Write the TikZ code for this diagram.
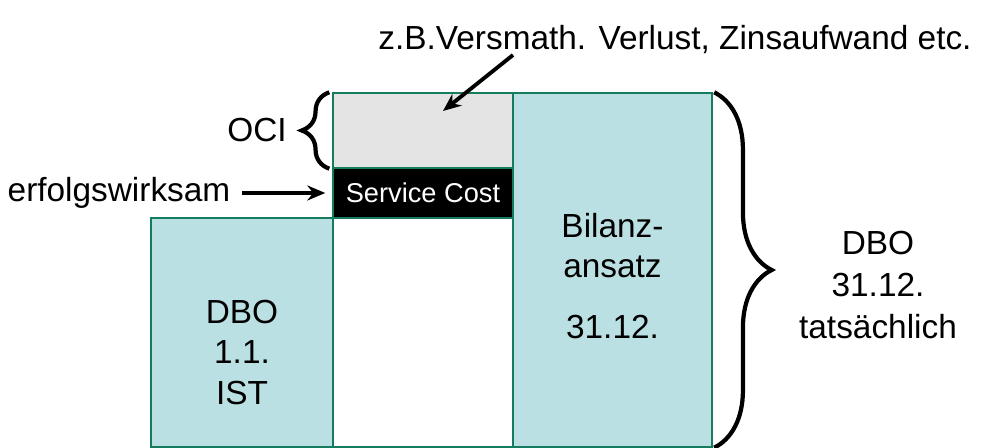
\documentclass[tikz,border=0pt]{standalone}
\usepackage{fontspec}
\setmainfont{Liberation Sans}
\usetikzlibrary{arrows.meta,positioning,decorations.pathreplacing}
\definecolor{boxfill}{RGB}{187,224,227}
\definecolor{boxline}{RGB}{20,125,95}
\definecolor{ocifill}{RGB}{228,228,228}
\begin{document}
\begin{tikzpicture}[
  x=0.02cm, y=-0.02cm,
  font=\fontsize{19}{23}\selectfont,
  bar/.style={draw=boxline, line width=0.8pt, fill=boxfill, inner sep=0pt, minimum width=#1*0.02cm},
  bar/.default=180,
  lbl/.style={align=center, inner sep=1pt},
  arr/.style={-{Stealth[length=3.6mm, width=3mm]}, line width=2.2pt},
  brc/.style={decorate, decoration={brace, amplitude=#1}, line width=2.4pt},
]
\useasboundingbox (0,0) rectangle (983,448);
% ================= bars =================
\node[bar=182, minimum height=229*0.02cm] (dboA) at (242,332.5) {};
\node[bar, fill=white, minimum height=229*0.02cm] (gap) at (423,332.5) {};
\node[bar, fill=ocifill, minimum height=75*0.02cm] (oci) at (423,130.5) {};
\node[bar, fill=black, minimum height=50*0.02cm, text=white,
      font=\fontsize{15.5}{18}\selectfont] (svc) at (423,193) {Service Cost};
\node[bar=199, minimum height=354*0.02cm] (bil) at (612.5,270) {};
% ================= texts in the bars =================
\node[lbl, font=\fontsize{19}{23}\selectfont] (dboAtxt) at (242,352.5) {DBO\\1.1.\\IST};
\node[lbl, font=\fontsize{19}{22.7}\selectfont] (biltxt) at (612.5,276) {Bilanz-\\ansatz\\[11.9pt]31.12.};
% ================= labels =================
\node[lbl] (top) at (675,40) {z.B.Versmath. Verlust, Zinsaufwand etc.};
\node[lbl] (ocitxt) at (257,130) {OCI};
\node[lbl] (erfolg) at (119,193) {erfolgswirksam};
\node[lbl, font=\fontsize{19}{23.8}\selectfont] (dboB) at (878,285) {DBO\\31.12.\\tatsächlich};
% ================= arrows and braces =================
\coordinate (topfrom) at (513,55);
\coordinate (topto) at (443,111);
\draw[arr] (topfrom) -- (topto);
\draw[arr, shorten <=10*0.02cm] (erfolg.east) -- ([xshift=-7*0.02cm]svc.west |- erfolg.east);
\draw[brc=0.55cm] ([xshift=-3*0.02cm]oci.south west) -- ([xshift=-3*0.02cm]oci.north west);
\draw[brc=1.15cm] ([xshift=1.5*0.02cm]bil.north east) -- ([xshift=1.5*0.02cm]bil.south east);
\end{tikzpicture}
\end{document}
